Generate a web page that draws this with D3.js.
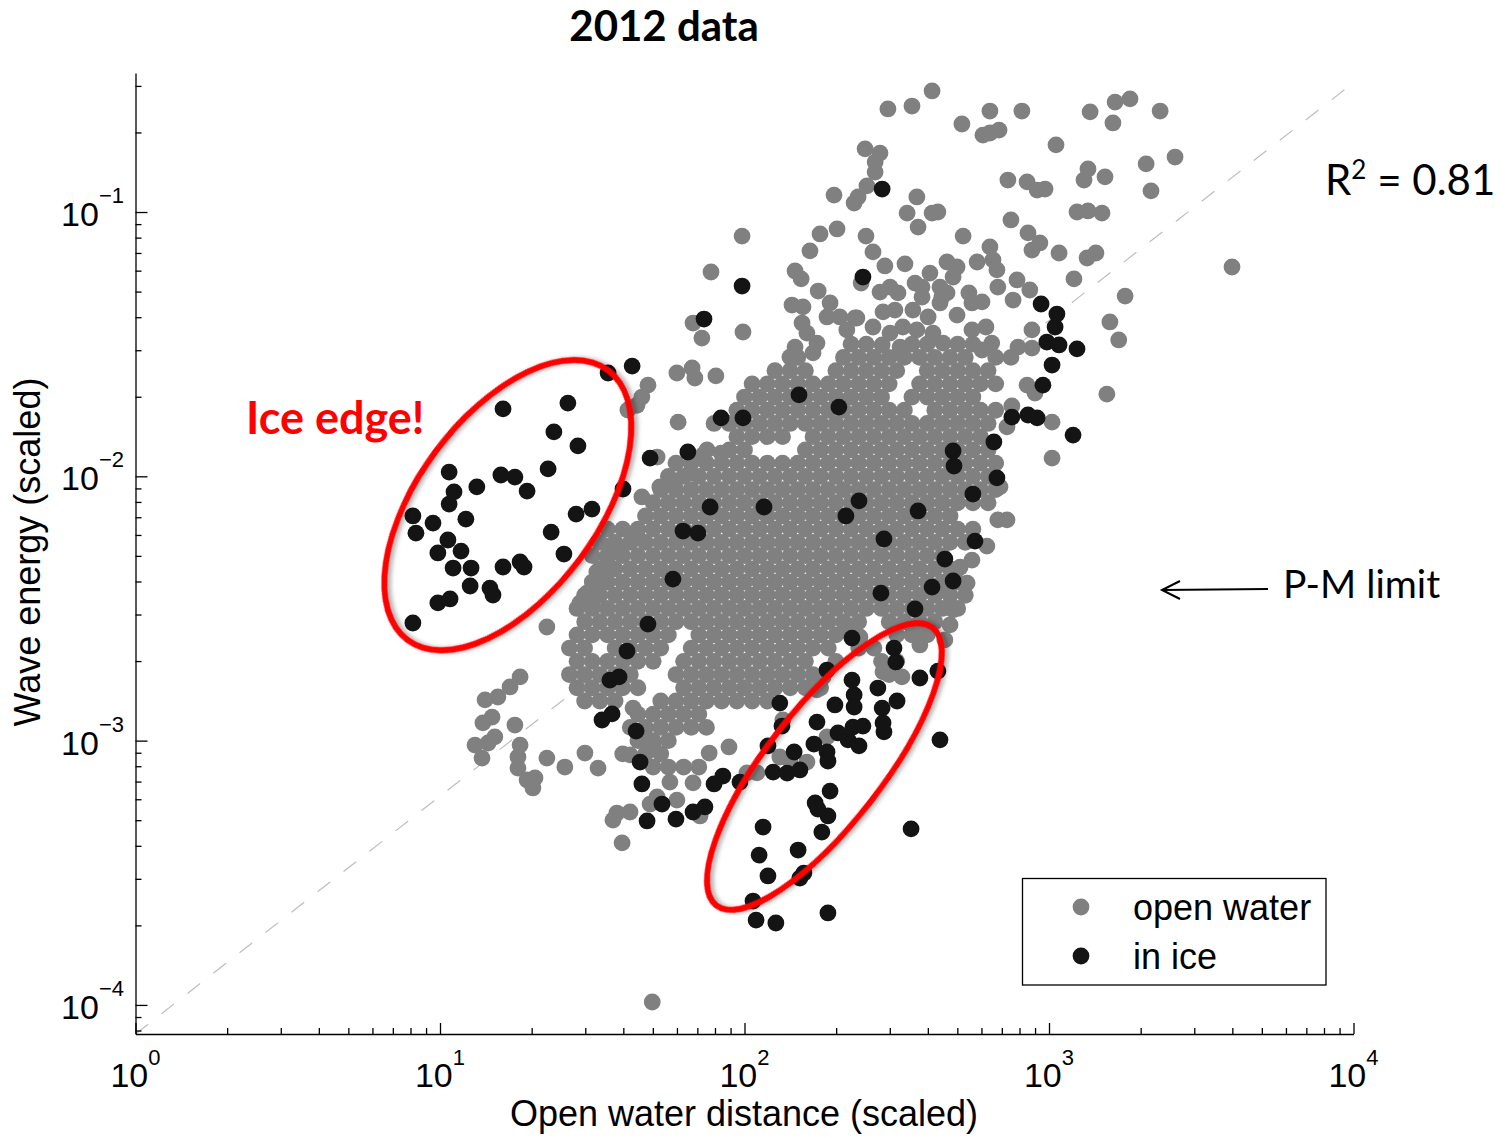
<!DOCTYPE html>
<html><head><meta charset="utf-8">
<script src="https://cdn.jsdelivr.net/npm/d3@7"></script>
<style>body{margin:0;background:#fff;} svg{display:block;}</style>
</head><body>
<svg id="chart" width="1509" height="1138"></svg>
<script>
// ---------------- DATA (values stored as log10 of the scaled quantities) ----------------
// [log10(open water distance), log10(wave energy)]
const iceLog10 = [
[1.631,-1.583],[1.552,-1.609],[1.420,-1.723],[1.207,-1.745],[1.374,-1.832],[1.453,-1.885],[1.030,-1.984],[1.200,-1.995],[1.246,-2.003],[1.355,-1.972],[1.121,-2.040],[1.286,-2.056],[1.046,-2.059],[1.030,-2.105],[1.601,-2.048],[0.911,-2.150],[0.977,-2.177],[1.085,-2.162],[1.447,-2.143],[1.499,-2.124],[0.921,-2.215],[1.026,-2.241],[1.365,-2.211],[0.993,-2.290],[1.069,-2.283],[1.407,-2.294],[1.043,-2.347],[1.102,-2.347],[1.207,-2.343],[1.263,-2.324],[1.276,-2.343],[1.099,-2.415],[1.164,-2.423],[1.174,-2.449],[0.993,-2.479],[1.033,-2.464],[0.911,-2.555],
[1.690,-1.931],[1.814,-1.908],[1.887,-2.116],[1.798,-2.207],[1.847,-2.215],[1.765,-2.389],[1.683,-2.559],[1.614,-2.661],[1.867,-1.405],[2.179,-1.692],[2.310,-1.738],[1.923,-1.779],[1.995,-1.779],[2.064,-2.116],[2.376,-2.093],[2.333,-2.150],[2.570,-2.131],[2.685,-1.904],[2.688,-1.961],[2.819,-1.870],[2.829,-2.006],[2.750,-2.067],[2.757,-2.245],[2.458,-2.237],[2.658,-2.313],[2.685,-2.396],[2.616,-2.419],[2.448,-2.442],[2.452,-0.913],[2.389,-1.246],[1.992,-1.280],[2.974,-1.348],[3.026,-1.386],[3.020,-1.435],[2.993,-1.492],[3.033,-1.503],[3.092,-1.518],[3.010,-1.579],[2.980,-1.655],[2.878,-1.776],[2.931,-1.768],[2.961,-1.779],[3.079,-1.844],
[1.558,-2.771],[1.588,-2.759],[1.532,-2.922],[1.565,-2.899],[1.644,-2.964],[1.657,-3.081],[1.663,-3.164],[1.729,-3.240],[1.680,-3.304],[1.775,-3.297],[1.831,-3.270],[1.870,-3.251],[1.900,-3.164],[1.929,-3.134],[1.985,-3.157],[2.116,-2.858],[2.123,-2.945],[2.077,-3.020],[2.094,-3.119],[2.140,-3.123],[2.163,-3.043],[2.061,-3.327],[2.048,-3.433],[2.077,-3.512],
[2.560,-2.502],[2.491,-2.650],[2.497,-2.703],[2.576,-2.763],[2.635,-2.737],[2.353,-2.612],[2.271,-2.733],[2.353,-2.771],[2.438,-2.801],[2.360,-2.827],[2.297,-2.865],[2.501,-2.850],[2.360,-2.873],[2.452,-2.877],[2.238,-2.930],[2.455,-2.933],[2.458,-2.967],[2.389,-2.945],[2.356,-2.949],[2.307,-2.971],[2.340,-2.997],[2.376,-3.020],[2.228,-3.013],[2.271,-3.043],[2.274,-3.077],[2.182,-3.111],[2.642,-2.997],[2.281,-3.191],[2.232,-3.236],[2.241,-3.259],[2.274,-3.285],[2.254,-3.346],[2.547,-3.334],[2.176,-3.414],[2.195,-3.501],[2.182,-3.520],[2.028,-3.607],[2.038,-3.679],[2.103,-3.690],[2.274,-3.652]
];

// open water: scattered points around the cloud
const openWaterScatterLog10 = [
[2.616,-0.542],[2.471,-0.610],[2.550,-0.599],[2.806,-0.618],[2.911,-0.618],[3.135,-0.621],[3.217,-0.584],[3.266,-0.572],[3.365,-0.618],[2.714,-0.667],[2.783,-0.709],[2.836,-0.690],[2.806,-0.701],[3.210,-0.663],[3.023,-0.746],[3.414,-0.792],[3.319,-0.818],[3.335,-0.920],[3.128,-0.837],[3.115,-0.879],[3.184,-0.867],[2.865,-0.879],[2.928,-0.886],[2.961,-0.917],[2.987,-0.913],[3.092,-1.000],[3.128,-0.996],[3.174,-1.004],[2.875,-1.030],[2.931,-1.079],[2.970,-1.117],[2.944,-1.144],[3.033,-1.155],[3.125,-1.174],[3.154,-1.155],[3.082,-1.253],[3.250,-1.318],[3.200,-1.416],[3.601,-1.208],
[2.396,-0.761],[2.445,-0.777],[2.429,-0.811],[2.429,-0.849],[2.402,-0.901],[2.373,-0.943],[2.360,-0.966],[2.566,-0.943],[2.534,-1.004],[2.616,-1.004],[2.635,-1.000],[2.570,-1.057],[2.399,-1.091],[2.422,-1.151],[2.718,-1.091],[2.461,-1.204],[2.527,-1.196],[2.383,-1.269],[2.478,-1.284],[2.504,-1.306],[2.445,-1.303],[2.665,-1.189],[2.698,-1.208],[2.685,-1.246],[2.764,-1.189],[2.806,-1.132],[2.816,-1.181],[2.829,-1.219],[2.560,-1.269],[2.609,-1.231],[2.642,-1.284],[2.583,-1.322],[2.648,-1.322],[2.737,-1.306],[2.780,-1.340],[2.747,-1.344],[2.832,-1.284],[2.895,-1.257],[2.937,-1.295],[2.882,-1.333],[2.455,-1.378],[2.494,-1.371],[2.553,-1.371],[2.603,-1.397],[2.698,-1.390],[2.369,-1.401],[2.248,-1.083],[2.304,-1.064],[2.215,-1.147],[2.166,-1.223],[2.186,-1.253],[2.242,-1.299],[2.294,-0.936],[1.992,-1.091],[1.890,-1.227],[2.156,-1.352],[2.192,-1.359],[2.281,-1.344],[2.271,-1.397],[2.313,-1.397],[2.336,-1.446],[2.363,-1.401],[2.189,-1.420],[2.205,-1.458],[2.238,-1.496],[2.225,-1.533],[2.166,-1.511],[2.149,-1.549],[2.422,-1.435],[2.478,-1.458],[2.520,-1.435],[2.566,-1.446],[2.619,-1.458],[2.652,-1.496],[2.452,-1.503],[2.511,-1.511],[2.747,-1.446],[2.793,-1.435],[2.812,-1.496],[2.780,-1.522],[2.583,-1.284],[2.665,-1.306],[2.642,-1.344],[1.831,-1.420],[1.860,-1.477],[1.995,-1.454],
[3.229,-1.484],[3.190,-1.689],[3.010,-1.795],[3.010,-1.931],[2.944,-1.446],[2.944,-1.515],[2.898,-1.511],[2.928,-1.655],[2.954,-1.685],[2.878,-1.734],[2.862,-1.813],[2.832,-2.165],[2.862,-2.165],[2.796,-2.264],[2.747,-2.317],[2.708,-2.344],[2.731,-2.404],[2.652,-2.430],[2.839,-2.040],
[1.778,-1.609],[1.828,-1.590],[1.837,-1.628],[1.906,-1.620],[1.683,-1.655],[1.663,-1.700],[1.647,-1.731],[1.617,-1.749],[1.782,-1.795],[1.713,-1.927],[1.864,-1.919],[1.923,-1.912],[1.663,-2.078],[1.722,-2.040],[1.755,-2.014],[1.821,-1.988],[1.877,-1.900],[1.647,-2.222],[1.565,-2.260],[1.548,-2.305],[1.591,-2.290],[1.515,-2.362],[1.558,-2.343],[1.525,-2.392],[1.483,-2.441],[1.460,-2.479],[1.502,-2.494],[1.351,-2.570],
[1.263,-2.759],[1.230,-2.797],[1.190,-2.835],[1.148,-2.846],[1.171,-2.911],[1.141,-2.933],[1.246,-2.941],[1.180,-2.986],[1.158,-3.009],[1.115,-3.017],[1.138,-3.066],[1.263,-3.017],[1.256,-3.062],[1.256,-3.104],[1.286,-3.149],[1.305,-3.179],[1.312,-3.141],[1.351,-3.066],[1.410,-3.100],[1.476,-3.047],[1.519,-3.104],[1.634,-2.877],[1.624,-3.054],[1.657,-2.998],[1.700,-3.009],[1.581,-3.274],[1.568,-3.301],[1.624,-3.270],[1.598,-3.387],[1.697,-3.989],[1.690,-3.240],[1.713,-3.213],[1.778,-3.225],[1.854,-3.285],[1.755,-3.157],[1.831,-3.160],[2.008,-3.122],[2.041,-3.122],[1.884,-3.047],[1.949,-3.024],[2.116,-3.062],[2.149,-3.073],[2.205,-3.081],[2.126,-2.922],[2.271,-2.986],[2.258,-2.759],[2.238,-2.808],[2.455,-2.740],[2.517,-2.759],[2.685,-2.505],[2.675,-2.562],[2.658,-2.619],[2.346,-2.570],[2.379,-2.608],[2.553,-2.593],[2.576,-2.638]
];

// open water: dense core, read row by row: [log10(energy), [log10(distance) ...]]
const openWaterCoreRowsLog10 = [
[-1.50,[2.35,2.40,2.55,2.60,2.70,2.75]],
[-1.55,[2.175,2.325,2.375,2.425,2.475,2.525,2.575,2.625,2.675,2.725,2.825,2.875]],
[-1.60,[2.10,2.15,2.20,2.30,2.35,2.40,2.45,2.50,2.60,2.65,2.70,2.75,2.80]],
[-1.65,[2.025,2.075,2.125,2.175,2.225,2.275,2.325,2.375,2.425,2.475,2.575,2.625,2.675,2.725,2.775,2.825]],
[-1.70,[2.00,2.05,2.10,2.15,2.20,2.25,2.30,2.35,2.40,2.45,2.55,2.60,2.65,2.70,2.75]],
[-1.75,[1.975,2.025,2.075,2.125,2.175,2.225,2.275,2.325,2.375,2.425,2.475,2.525,2.625,2.675,2.725,2.775,2.825]],
[-1.80,[1.90,1.95,2.00,2.05,2.10,2.15,2.20,2.25,2.30,2.35,2.40,2.45,2.50,2.55,2.60,2.65,2.70,2.75,2.80]],
[-1.85,[1.975,2.025,2.075,2.125,2.225,2.275,2.325,2.375,2.425,2.475,2.525,2.575,2.625,2.675,2.725,2.775]],
[-1.90,[1.95,2.00,2.20,2.25,2.30,2.35,2.40,2.45,2.50,2.55,2.60,2.65,2.70,2.75,2.80]],
[-1.95,[1.775,1.825,1.875,1.925,1.975,2.025,2.075,2.125,2.175,2.225,2.275,2.325,2.375,2.425,2.475,2.525,2.575,2.625,2.675,2.725,2.775,2.825]],
[-2.00,[1.75,1.80,1.85,1.90,1.95,2.00,2.05,2.10,2.15,2.20,2.25,2.30,2.35,2.40,2.45,2.50,2.55,2.60,2.65,2.70,2.75,2.80]],
[-2.05,[1.725,1.775,1.825,1.875,1.925,1.975,2.025,2.075,2.125,2.175,2.225,2.275,2.325,2.375,2.425,2.475,2.525,2.575,2.625,2.675,2.725,2.775,2.825]],
[-2.10,[1.70,1.75,1.80,1.85,1.90,1.95,2.00,2.05,2.10,2.15,2.20,2.25,2.30,2.35,2.40,2.45,2.50,2.55,2.60,2.65,2.70,2.75,2.80]],
[-2.15,[1.675,1.725,1.775,1.825,1.875,1.925,1.975,2.025,2.075,2.125,2.175,2.225,2.275,2.325,2.375,2.425,2.475,2.525,2.575,2.625,2.675]],
[-2.20,[1.55,1.60,1.65,1.70,1.75,1.80,1.85,1.90,1.95,2.00,2.05,2.10,2.15,2.20,2.25,2.30,2.35,2.40,2.45,2.50,2.55,2.60,2.65,2.70,2.75]],
[-2.25,[1.525,1.575,1.625,1.675,1.725,1.775,1.825,1.875,1.925,1.975,2.025,2.075,2.125,2.175,2.225,2.275,2.325,2.375,2.425,2.475,2.525,2.575,2.625,2.675,2.725]],
[-2.30,[1.50,1.55,1.60,1.65,1.70,1.75,1.80,1.85,1.90,1.95,2.00,2.05,2.10,2.15,2.20,2.25,2.30,2.35,2.40,2.45,2.50,2.55,2.60,2.65]],
[-2.35,[1.525,1.575,1.625,1.675,1.725,1.775,1.825,1.875,1.925,1.975,2.025,2.075,2.125,2.175,2.225,2.275,2.325,2.375,2.425,2.475,2.525,2.575,2.625,2.675]],
[-2.40,[1.50,1.55,1.60,1.65,1.70,1.75,1.80,1.85,1.90,1.95,2.00,2.05,2.10,2.15,2.20,2.25,2.30,2.35,2.40,2.45,2.50,2.55,2.60,2.65,2.70]],
[-2.45,[1.475,1.525,1.575,1.625,1.675,1.725,1.775,1.825,1.875,1.925,1.975,2.025,2.075,2.125,2.175,2.225,2.275,2.325,2.375,2.425,2.475,2.525,2.575,2.625,2.675,2.725]],
[-2.50,[1.45,1.50,1.55,1.60,1.65,1.70,1.75,1.80,1.85,1.90,1.95,2.00,2.05,2.10,2.15,2.20,2.25,2.30,2.35,2.40,2.45,2.50,2.55,2.60,2.65,2.70]],
[-2.55,[1.475,1.525,1.575,1.625,1.675,1.725,1.775,1.825,1.875,1.925,1.975,2.025,2.075,2.125,2.175,2.225,2.275,2.325,2.375,2.475,2.525,2.575,2.625]],
[-2.60,[1.45,1.50,1.55,1.60,1.65,1.70,1.75,1.85,1.90,1.95,2.00,2.05,2.10,2.15,2.20,2.25,2.30,2.35,2.50,2.55,2.60]],
[-2.65,[1.425,1.475,1.575,1.625,1.675,1.725,1.825,1.875,1.925,1.975,2.025,2.075,2.125,2.175,2.225,2.275,2.375,2.425]],
[-2.70,[1.45,1.50,1.55,1.60,1.65,1.70,1.80,1.85,1.90,1.95,2.00,2.05,2.10,2.15,2.20,2.30,2.45,2.50]],
[-2.75,[1.425,1.475,1.525,1.575,1.625,1.775,1.825,1.875,1.925,1.975,2.025,2.075,2.125,2.175,2.225,2.475]],
[-2.80,[1.45,1.50,1.55,1.60,1.65,1.80,1.85,1.90,1.95,2.00,2.05,2.10,2.15,2.20,2.25]],
[-2.85,[1.475,1.525,1.575,1.725,1.775,1.825,1.875,1.925,1.975,2.025,2.075]],
[-2.90,[1.65,1.70,1.75,1.80,1.85]],
[-2.95,[1.625,1.675,1.725,1.775,1.825,1.875]],
[-3.00,[1.65,1.70,1.75]],
[-3.05,[1.60,1.675,1.725]],
[-3.10,[1.70,1.75,1.80,1.85]]
];

// axis tick exponents
const xTickExponents = [0, 1, 2, 3, 4];
const yTickExponents = [-4, -3, -2, -1];

// dashed reference line end points (distance, energy)
const refLineX = [1, 9333];
const refLineY = [7.76e-5, 0.290];

// highlighted groups: centers in data units
const ellipseCenters = [[16.7, 0.00778], [183, 0.000798]];

const seriesNames = ["open water", "in ice"];
const seriesColors = ["#808080", "#141414"];

// ---------------- BUILD ----------------
const openWater = openWaterScatterLog10.map(d => ({dist: 10 ** d[0], energy: 10 ** d[1]}));
openWaterCoreRowsLog10.forEach(([ly, xs]) => xs.forEach(lx => openWater.push({dist: 10 ** lx, energy: 10 ** ly})));
const inIce = iceLog10.map(d => ({dist: 10 ** d[0], energy: 10 ** d[1]}));

const svg = d3.select("#chart");
const axisFont = "'Liberation Sans', Arial, Helvetica, sans-serif";
const annFont = "Lato, 'Open Sans', sans-serif";

const x = d3.scaleLog().domain([1, 1e4]).range([135.5, 1353.5]);
const y = d3.scaleLog().domain([10 ** -4.11, 10 ** -0.474]).range([1034, 73]);

const defs = svg.append("defs");
const f = defs.append("filter").attr("id", "shadow").attr("x", "-20%").attr("y", "-20%").attr("width", "140%").attr("height", "140%");
f.append("feDropShadow").attr("dx", 2).attr("dy", 3).attr("stdDeviation", 2).attr("flood-color", "#000").attr("flood-opacity", 0.3);

// reference dashed line
svg.append("line")
  .attr("x1", x(refLineX[0])).attr("y1", y(refLineY[0]))
  .attr("x2", x(refLineX[1])).attr("y2", y(refLineY[1]))
  .attr("stroke", "#bdbdbd").attr("stroke-width", 1.2).attr("stroke-dasharray", "16,17");

const R = 8.4;
svg.append("g").selectAll("circle").data(openWater).join("circle")
  .attr("cx", d => x(d.dist)).attr("cy", d => y(d.energy)).attr("r", R).attr("fill", seriesColors[0]);
svg.append("g").selectAll("circle").data(inIce).join("circle")
  .attr("cx", d => x(d.dist)).attr("cy", d => y(d.energy)).attr("r", R).attr("fill", seriesColors[1]);

// axes
function minorTicks(lo, hi) {
  const out = [];
  for (let e = Math.floor(Math.log10(lo)); e <= Math.ceil(Math.log10(hi)); e++)
    for (let m = 2; m <= 9; m++) { const v = m * 10 ** e; if (v > lo && v < hi) out.push(v); }
  return out;
}
const gx = svg.append("g").attr("transform", "translate(0,1034)");
gx.call(d3.axisBottom(x).tickValues(xTickExponents.map(e => 10 ** e)).tickSizeInner(-11).tickSizeOuter(0).tickFormat(""));
gx.append("g").call(d3.axisBottom(x).tickValues(minorTicks(1, 1e4)).tickSizeInner(-6).tickSizeOuter(0).tickFormat(""))
  .select(".domain").remove();
const gy = svg.append("g").attr("transform", "translate(135.5,0)");
gy.call(d3.axisLeft(y).tickValues(yTickExponents.map(e => 10 ** e)).tickSizeInner(-12).tickSizeOuter(0).tickFormat(""));
gy.append("g").call(d3.axisLeft(y).tickValues(minorTicks(10 ** -4.11, 10 ** -0.474)).tickSizeInner(-6).tickSizeOuter(0).tickFormat(""))
  .select(".domain").remove();
svg.selectAll(".domain, .tick line").attr("stroke", "#000").attr("stroke-width", 1.3);

xTickExponents.forEach(e => {
  const t = svg.append("text").attr("x", x(10 ** e)).attr("y", 1087).attr("text-anchor", "middle")
    .attr("font-family", axisFont).attr("font-size", 34).attr("fill", "#000");
  t.append("tspan").text("10");
  t.append("tspan").attr("dy", -22).attr("font-size", 22).text(String(e));
});
yTickExponents.forEach(e => {
  const t = svg.append("text").attr("x", 124).attr("y", y(10 ** e) + 14).attr("text-anchor", "end")
    .attr("font-family", axisFont).attr("font-size", 34).attr("fill", "#000");
  t.append("tspan").text("10");
  t.append("tspan").attr("dy", -23).attr("font-size", 22).text("\u2212" + Math.abs(e));
});

// axis titles
svg.append("text").attr("x", 744).attr("y", 1126).attr("text-anchor", "middle")
  .attr("font-family", axisFont).attr("font-size", 36).text("Open water distance (scaled)");
svg.append("text").attr("transform", "translate(40,552) rotate(-90)").attr("text-anchor", "middle")
  .attr("font-family", axisFont).attr("font-size", 36).text("Wave energy (scaled)");

// title
svg.append("text").attr("x", 664).attr("y", 41).attr("text-anchor", "middle")
  .attr("font-family", annFont).attr("font-weight", 700).attr("font-size", 42).text("2012 data");

// ellipses
const ellipseShapes = [{rx: 168, ry: 90, rot: -53.4}, {rx: 176, ry: 58, rot: -52.1}];
ellipseCenters.forEach((c, i) => {
  const s = ellipseShapes[i];
  svg.append("ellipse")
    .attr("transform", `translate(${x(c[0])},${y(c[1])}) rotate(${s.rot})`)
    .attr("rx", s.rx).attr("ry", s.ry).attr("fill", "none")
    .attr("stroke", "#ff0000").attr("stroke-width", 6).attr("filter", "url(#shadow)");
});

svg.append("text").attr("x", 246).attr("y", 434).attr("font-family", annFont).attr("font-weight", 700)
  .attr("font-size", 45).attr("fill", "#ff0000").text("Ice edge!");

// R^2
const r2 = svg.append("text").attr("x", 1325).attr("y", 195).attr("font-family", annFont).attr("font-size", 42).attr("fill", "#000");
r2.append("tspan").text("R");
r2.append("tspan").attr("dy", -16).attr("font-size", 26).text("2");
r2.append("tspan").attr("dy", 16).text(" = 0.81");

// P-M limit arrow
svg.append("path").attr("d", "M1268,589 L1162,590 M1180,581 L1162,590 L1180,599")
  .attr("fill", "none").attr("stroke", "#000").attr("stroke-width", 2);
svg.append("text").attr("x", 1283).attr("y", 598).attr("font-family", annFont).attr("font-size", 39).text("P-M limit");

// legend
const lg = svg.append("g");
lg.append("rect").attr("x", 1022.5).attr("y", 878.5).attr("width", 303.5).attr("height", 106.5)
  .attr("fill", "#fff").attr("stroke", "#000").attr("stroke-width", 1.3);
seriesNames.forEach((n, i) => {
  lg.append("circle").attr("cx", 1081).attr("cy", 907 + i * 49).attr("r", R).attr("fill", seriesColors[i]);
  lg.append("text").attr("x", 1133).attr("y", 920 + i * 49).attr("font-family", axisFont).attr("font-size", 36).text(n);
});
</script>
</body></html>
